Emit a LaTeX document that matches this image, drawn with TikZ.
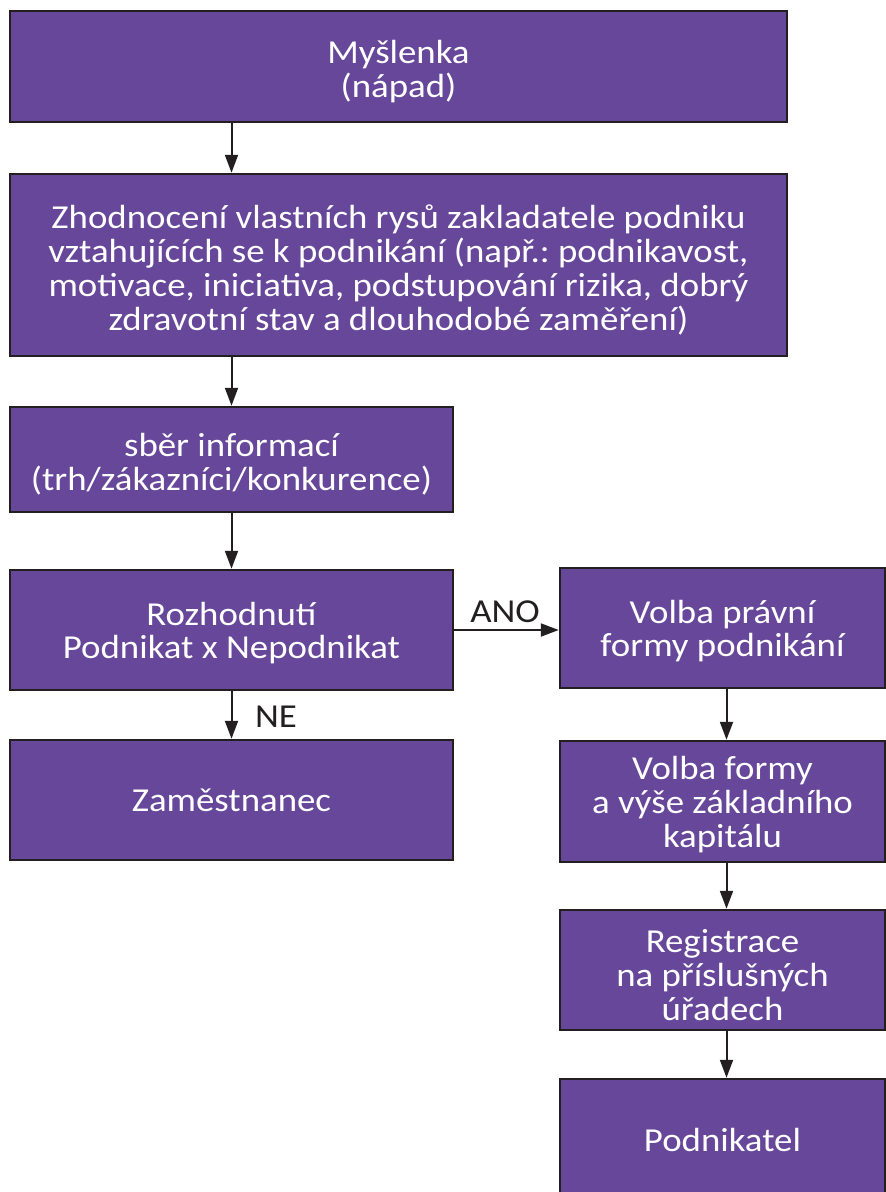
\documentclass[tikz,border=0pt]{standalone}
\usepackage{fontspec}
\setmainfont{Carlito}[FakeStretch=1.1]
\usetikzlibrary{arrows.meta}
\definecolor{boxfill}{RGB}{103,71,154}
\definecolor{boxline}{RGB}{35,31,32}
\frenchspacing
\begin{document}
\begin{tikzpicture}[x=1pt,y=-1pt,
  box/.style={draw=boxline,line width=2.5pt,fill=boxfill,inner sep=0pt},
  txt/.style={text=white,align=center,font=\fontsize{33.5}{33.8}\selectfont,inner sep=0pt},
  conn/.style={draw=boxline,line width=2pt,-{Triangle[length=18pt,width=13pt]}},
  lbl/.style={font=\fontsize{33.5}{33.8}\selectfont,text=boxline,inner sep=0pt}]
\useasboundingbox (0,0) rectangle (886,1192);
\clip (0,0) rectangle (886,1192);
\node[box,minimum width=777pt,minimum height=111pt,
  label={[txt,yshift=-5pt]center:{Myšlenka\\(nápad)}}] (b1) at (398.5,66.5) {};
\node[box,minimum width=777pt,minimum height=182pt,
  label={[txt,yshift=-5pt]center:{Zhodnocení vlastních rysů zakladatele podniku\\vztahujících se k podnikání (např.: podnikavost,\\motivace, iniciativa, podstupování rizika, dobrý\\zdravotní stav a dlouhodobé zaměření)}}] (b2) at (398.5,265) {};
\node[box,minimum width=443pt,minimum height=105pt,
  label={[txt,yshift=-5pt]center:{sběr informací\\(trh/zákazníci/konkurence)}}] (b3) at (231.5,459.5) {};
\node[box,minimum width=443pt,minimum height=120pt,
  label={[txt,yshift=-3pt]center:{Rozhodnutí\\Podnikat x Nepodnikat}}] (b4) at (231.5,630) {};
\node[box,minimum width=443pt,minimum height=120pt,
  label={[txt]center:{Zaměstnanec}}] (b5) at (231.5,800) {};
\node[box,minimum width=325pt,minimum height=120pt,
  label={[txt,yshift=-3pt]center:{Volba právní\\formy podnikání}}] (r1) at (722.5,628) {};
\node[box,minimum width=325pt,minimum height=121pt,
  label={[txt,yshift=-3pt]center:{Volba formy\\a výše základního\\kapitálu}}] (r2) at (722.5,801.5) {};
\node[box,minimum width=325pt,minimum height=120pt,
  label={[txt,yshift=-5pt]center:{Registrace\\na příslušných\\úřadech}}] (r3) at (722.5,970) {};
\node[box,minimum width=325pt,minimum height=121pt,
  label={[txt]center:{Podnikatel}}] (r4) at (722.5,1139.5) {};
\draw[conn] (b1.south -| b3.north) -- (b2.north -| b3.north);
\draw[conn] (b2.south -| b3.north) -- (b3.north);
\draw[conn] (b3.south) -- (b4.north);
\draw[conn] (b4.south) -- (b5.north);
\draw[conn] (b4.east) -- (b4.east -| r1.west);
\draw[conn] ([xshift=4pt]r1.south) -- ([xshift=4pt]r2.north);
\draw[conn] ([xshift=4pt]r2.south) -- ([xshift=4pt]r3.north);
\draw[conn] ([xshift=4pt]r3.south) -- ([xshift=4pt]r4.north);
\node[lbl] (ano) at (505,612) {ANO};
\node[lbl] (ne) at (276,717) {NE};
\end{tikzpicture}
\end{document}
